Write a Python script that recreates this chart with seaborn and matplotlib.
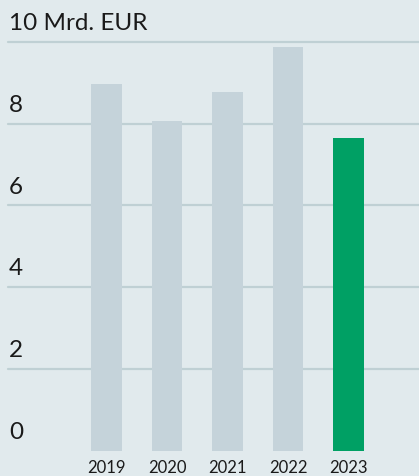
import matplotlib
matplotlib.use("Agg")
import matplotlib.pyplot as plt
import seaborn as sns
import pandas as pd

years = ["2019", "2020", "2021", "2022", "2023"]
values = [8.97, 8.07, 8.78, 9.88, 7.65]
yticks = [0, 2, 4, 6, 8, 10]
ytick_labels = ["0", "2", "4", "6", "8", "10 Mrd. EUR"]

bg = "#e1eaed"
gray = "#c5d3da"
green = "#00a064"
grid = "#bfd0d4"

sns.set_theme(style="white")
plt.rcParams['font.family'] = ['Lato', 'DejaVu Sans']

df = pd.DataFrame({"year": years, "value": values})
colors = [gray] * (len(years) - 1) + [green]

fig = plt.figure(figsize=(4.19, 4.76), dpi=100, facecolor=bg)
ax = fig.add_axes([0, 0, 1, 1])
ax.set_facecolor(bg)

sns.barplot(data=df, x="year", y="value", hue="year", palette=colors,
            legend=False, width=0.51, ax=ax, saturation=1, linewidth=0,
            edgecolor="none")

# pixel mapping: x=0 at category -1.76, right edge 5.165; y top=11.03, bottom=-0.624
ax.set_xlim(-1.76, 5.165)
ax.set_ylim(-0.624, 11.03)

for t in yticks[1:]:
    ax.axhline(t, xmin=8/419, xmax=1, color=grid, lw=1.6, zorder=0)

for t, lab in zip(yticks, ytick_labels):
    ax.text(-1.76 + 9/60.5, t + 0.45, lab, fontsize=17.5, color="#1a1a1a",
            va="center", ha="left")

for i, y in enumerate(years):
    ax.text(i, -0.42, y, fontsize=12, color="#1a1a1a", ha="center", va="center")

ax.set_axis_off()
fig.savefig("out.png", dpi=100, facecolor=bg)
